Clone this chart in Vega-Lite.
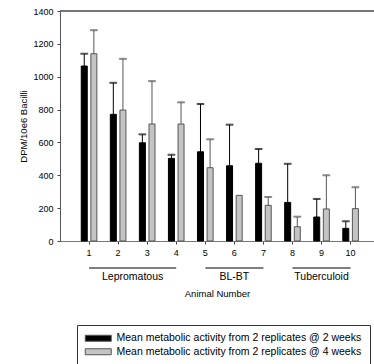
{
  "$schema": "https://vega.github.io/schema/vega-lite/v6.json",
  "width": 314,
  "height": 230,
  "autosize": {"type": "none"},
  "padding": {"left": 60, "top": 11, "right": 0, "bottom": 123},
  "config": {
    "font": "Liberation Sans",
    "view": {"stroke": null},
    "axis": {"labelColor": "black", "titleColor": "black", "titleFontWeight": "normal", "grid": false, "labelFont": "Liberation Sans", "titleFont": "Liberation Sans"}
  },
  "data": {
    "values": [
      {"animal": 1, "group": "Lepromatous", "series": "Mean metabolic activity from 2 replicates @ 2 weeks", "mean": 1065, "upper": 1140},
      {"animal": 1, "group": "Lepromatous", "series": "Mean metabolic activity from 2 replicates @ 4 weeks", "mean": 1140, "upper": 1283},
      {"animal": 2, "group": "Lepromatous", "series": "Mean metabolic activity from 2 replicates @ 2 weeks", "mean": 771, "upper": 963},
      {"animal": 2, "group": "Lepromatous", "series": "Mean metabolic activity from 2 replicates @ 4 weeks", "mean": 797, "upper": 1109},
      {"animal": 3, "group": "Lepromatous", "series": "Mean metabolic activity from 2 replicates @ 2 weeks", "mean": 598, "upper": 649},
      {"animal": 3, "group": "Lepromatous", "series": "Mean metabolic activity from 2 replicates @ 4 weeks", "mean": 712, "upper": 973},
      {"animal": 4, "group": "Lepromatous", "series": "Mean metabolic activity from 2 replicates @ 2 weeks", "mean": 503, "upper": 525},
      {"animal": 4, "group": "Lepromatous", "series": "Mean metabolic activity from 2 replicates @ 4 weeks", "mean": 712, "upper": 844},
      {"animal": 5, "group": "BL-BT", "series": "Mean metabolic activity from 2 replicates @ 2 weeks", "mean": 543, "upper": 834},
      {"animal": 5, "group": "BL-BT", "series": "Mean metabolic activity from 2 replicates @ 4 weeks", "mean": 446, "upper": 619},
      {"animal": 6, "group": "BL-BT", "series": "Mean metabolic activity from 2 replicates @ 2 weeks", "mean": 458, "upper": 708},
      {"animal": 6, "group": "BL-BT", "series": "Mean metabolic activity from 2 replicates @ 4 weeks", "mean": 278, "upper": null},
      {"animal": 7, "group": "BL-BT", "series": "Mean metabolic activity from 2 replicates @ 2 weeks", "mean": 473, "upper": 560},
      {"animal": 7, "group": "BL-BT", "series": "Mean metabolic activity from 2 replicates @ 4 weeks", "mean": 217, "upper": 268},
      {"animal": 8, "group": "Tuberculoid", "series": "Mean metabolic activity from 2 replicates @ 2 weeks", "mean": 235, "upper": 470},
      {"animal": 8, "group": "Tuberculoid", "series": "Mean metabolic activity from 2 replicates @ 4 weeks", "mean": 87, "upper": 148},
      {"animal": 9, "group": "Tuberculoid", "series": "Mean metabolic activity from 2 replicates @ 2 weeks", "mean": 146, "upper": 256},
      {"animal": 9, "group": "Tuberculoid", "series": "Mean metabolic activity from 2 replicates @ 4 weeks", "mean": 195, "upper": 400},
      {"animal": 10, "group": "Tuberculoid", "series": "Mean metabolic activity from 2 replicates @ 2 weeks", "mean": 77, "upper": 120},
      {"animal": 10, "group": "Tuberculoid", "series": "Mean metabolic activity from 2 replicates @ 4 weeks", "mean": 197, "upper": 327}
    ]
  },
  "layer": [
    {
      "layer": [
        {
          "mark": {"type": "bar", "strokeWidth": 1},
          "encoding": {
            "x": {
              "field": "animal", "type": "ordinal",
              "scale": {"paddingInner": 0, "paddingOuter": 0.4026, "align": 0.621},
              "axis": {"title": "Animal Number", "titleFontSize": 9.5, "titlePadding": 31, "labelAngle": 0, "labelFontSize": 9, "labelPadding": 4, "tickSize": 3, "tickColor": "#444444", "domainColor": "#777777"}
            },
            "xOffset": {"field": "series", "type": "nominal", "scale": {"paddingInner": 0.375, "paddingOuter": 0.7}},
            "y": {
              "field": "mean", "type": "quantitative",
              "scale": {"domain": [0, 1400], "nice": false},
              "axis": {"title": "DPM/10e6 Bacilli", "titleFontSize": 9.5, "titlePadding": 4, "values": [0, 200, 400, 600, 800, 1000, 1200, 1400], "format": "d", "labelOverlap": false, "labelFontSize": 9, "labelPadding": 4, "tickSize": 3, "tickColor": "#444444", "domainColor": "#555555"}
            },
            "fill": {
              "field": "series", "type": "nominal",
              "scale": {"range": ["#000000", "#c4c4c4"]},
              "legend": {
                "title": null, "orient": "none", "legendX": 17, "legendY": 314,
                "padding": 8, "strokeColor": "#333333", "fillColor": "white",
                "symbolType": "M-4.333,-1H4.333V1H-4.333Z", "symbolSize": 36, "symbolOffset": 8,
                "symbolStrokeColor": "#555555", "symbolStrokeWidth": 1,
                "labelFontSize": 10.5, "labelColor": "black", "labelLimit": 400, "labelOffset": 13, "rowPadding": 2.5
              }
            },
            "stroke": {"field": "series", "type": "nominal", "scale": {"range": ["#000000", "#555555"]}, "legend": null}
          }
        },
        {
          "mark": {"type": "rule", "color": "#777777", "strokeWidth": 1},
          "encoding": {
            "y": {"datum": 1400, "type": "quantitative", "axis": {"title": "DPM/10e6 Bacilli", "titleFontSize": 9.5, "titlePadding": 4, "values": [0, 200, 400, 600, 800, 1000, 1200, 1400], "format": "d", "labelOverlap": false, "labelFontSize": 9, "labelPadding": 4, "tickSize": 3, "tickColor": "#444444", "domainColor": "#555555"}}
          }
        },
        {
          "transform": [{"filter": "datum.upper != null"}],
          "mark": {"type": "rule", "strokeWidth": 1},
          "encoding": {
            "x": {"field": "animal", "type": "ordinal"},
            "xOffset": {"field": "series", "type": "nominal"},
            "y": {"field": "mean", "type": "quantitative", "axis": {"title": "DPM/10e6 Bacilli", "titleFontSize": 9.5, "titlePadding": 4, "values": [0, 200, 400, 600, 800, 1000, 1200, 1400], "format": "d", "labelOverlap": false, "labelFontSize": 9, "labelPadding": 4, "tickSize": 3, "tickColor": "#444444", "domainColor": "#555555"}},
            "y2": {"field": "upper"},
            "stroke": {"field": "series", "type": "nominal", "legend": null}
          }
        },
        {
          "transform": [{"filter": "datum.upper != null"}],
          "mark": {"type": "tick", "size": 7, "thickness": 1},
          "encoding": {
            "x": {"field": "animal", "type": "ordinal"},
            "xOffset": {"field": "series", "type": "nominal"},
            "y": {"field": "upper", "type": "quantitative", "axis": {"title": "DPM/10e6 Bacilli", "titleFontSize": 9.5, "titlePadding": 4, "values": [0, 200, 400, 600, 800, 1000, 1200, 1400], "format": "d", "labelOverlap": false, "labelFontSize": 9, "labelPadding": 4, "tickSize": 3, "tickColor": "#444444", "domainColor": "#555555"}},
            "stroke": {"field": "series", "type": "nominal", "legend": null}
          }
        }
      ]
    },
    {
      "layer": [
        {
          "mark": {"type": "rule", "color": "black", "strokeWidth": 1, "yOffset": 27},
          "encoding": {
            "x": {"aggregate": "min", "field": "animal", "type": "quantitative", "scale": {"domain": [0, 10.805], "nice": false, "zero": false}, "axis": null},
            "x2": {"aggregate": "max", "field": "animal"},
            "y": {"datum": 0, "type": "quantitative", "axis": {"title": "DPM/10e6 Bacilli", "titleFontSize": 9.5, "titlePadding": 4, "values": [0, 200, 400, 600, 800, 1000, 1200, 1400], "format": "d", "labelOverlap": false, "labelFontSize": 9, "labelPadding": 4, "tickSize": 3, "tickColor": "#444444", "domainColor": "#555555"}},
            "detail": {"field": "group"}
          }
        },
        {
          "mark": {"type": "text", "fontSize": 10.5, "color": "black", "dy": 36, "baseline": "middle", "align": "center"},
          "encoding": {
            "x": {"aggregate": "mean", "field": "animal", "type": "quantitative"},
            "y": {"datum": 0, "type": "quantitative", "axis": {"title": "DPM/10e6 Bacilli", "titleFontSize": 9.5, "titlePadding": 4, "values": [0, 200, 400, 600, 800, 1000, 1200, 1400], "format": "d", "labelOverlap": false, "labelFontSize": 9, "labelPadding": 4, "tickSize": 3, "tickColor": "#444444", "domainColor": "#555555"}},
            "text": {"field": "group"}
          }
        }
      ]
    }
  ],
  "resolve": {"scale": {"x": "independent"}}
}
